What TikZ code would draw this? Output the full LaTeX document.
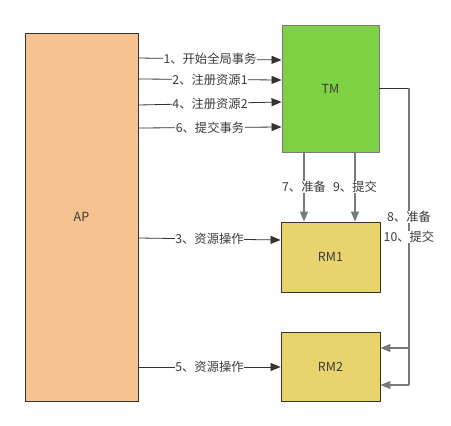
\documentclass[tikz,border=0pt]{standalone}
\usepackage{fontspec}
\setmainfont{Noto Sans CJK SC}
\usetikzlibrary{arrows.meta}
\definecolor{apfill}{HTML}{F5C290}
\definecolor{tmfill}{HTML}{7ED142}
\definecolor{rmfill}{HTML}{E8D46C}
\definecolor{linec}{HTML}{333333}
\definecolor{greyc}{HTML}{7A7A7A}
\definecolor{txtc}{HTML}{3A3A3A}
\begin{document}
\begin{tikzpicture}[x=1pt,y=-1pt,
  box/.style={draw=linec,line width=0.9pt,inner sep=0pt,font=\fontsize{12.5}{14}\selectfont,text=txtc},
  lbl/.style={fill=white,inner sep=0.5pt,font=\fontsize{12.3}{14}\selectfont,text=txtc},
  conn/.style={draw=linec,line width=0.8pt,-{Triangle[length=10pt,width=8pt]}},
  gconn/.style={draw=greyc,line width=1.2pt,-{Triangle[length=10pt,width=8pt]},shorten >=0pt}]
\useasboundingbox (0,0) rectangle (451,426);
\node[box,fill=apfill,minimum width=113pt,minimum height=368pt] (ap) at (81.5,217) {AP};
\node[box,fill=tmfill,draw=greyc,minimum width=97pt,minimum height=127pt] (tm) at (330.5,88.5) {TM};
\node[box,fill=rmfill,minimum width=99pt,minimum height=70pt] (rm1) at (330.5,257) {RM1};
\node[box,fill=rmfill,minimum width=99pt,minimum height=69pt] (rm2) at (330.5,366.5) {RM2};
% AP -> TM
\draw[conn] (ap.east |- 0,58) -- node[lbl]{1、开始全局事务} (tm.west |- 0,60);
\draw[conn] (ap.east |- 0,79) -- node[lbl]{2、注册资源1} (tm.west |- 0,80);
\draw[conn] (ap.east |- 0,105) -- node[lbl]{4、注册资源2} (tm.west |- 0,102);
\draw[conn] (ap.east |- 0,128) -- node[lbl]{6、提交事务} (tm.west |- 0,127);
% AP -> RM
\draw[conn] (ap.east |- 0,238) -- node[lbl]{3、资源操作} (rm1.west |- 0,240);
\draw[conn] (ap.east |- 0,367) -- node[lbl]{5、资源操作} (rm2.west |- 0,367);
% TM -> RM1
\draw[gconn] (tm.south -| 304,0) -- node[lbl,pos=0.5]{7、准备} (rm1.north -| 304,0);
\draw[gconn] (tm.south -| 355,0) -- node[lbl,pos=0.5]{9、提交} (rm1.north -| 355,0);
% TM -> RM2
\coordinate (c1) at (409,88);
\coordinate (c2) at (409,348);
\coordinate (c3) at (409,385);
\draw[draw=linec,line width=0.8pt] (tm.east |- c1) -- (c1);
\draw[draw=greyc,line width=1.2pt] (c1) -- (c3);
\node[lbl] at (409,217) {8、准备};
\node[lbl] at (409,237) {10、提交};
\draw[gconn] (c2) -- (rm2.east |- c2);
\draw[gconn] (c3) -- (rm2.east |- c3);
\end{tikzpicture}
\end{document}
